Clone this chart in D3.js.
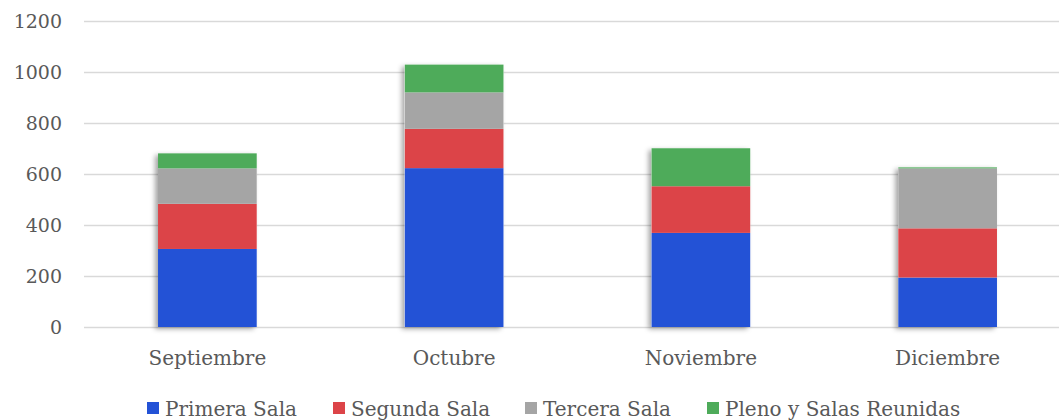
<!DOCTYPE html>
<html>
<head>
<meta charset="utf-8">
<script src="https://cdn.jsdelivr.net/npm/d3@7"></script>
<style>
  body { margin: 0; background: #fff; }
  text { font-family: "DejaVu Serif", serif; fill: #595959; }
</style>
</head>
<body>
<svg width="1059" height="420"></svg>
<script>
var months = ["Septiembre", "Octubre", "Noviembre", "Diciembre"];
var series = ["Primera Sala", "Segunda Sala", "Tercera Sala", "Pleno y Salas Reunidas"];
var primera = [306, 623, 369, 194];
var segunda = [177, 154, 183, 193];
var tercera = [139, 143, 0, 235];
var pleno   = [59, 109, 149, 4];
var yTicks = [0, 200, 400, 600, 800, 1000, 1200];
var colors = ["#2352d6", "#dc4448", "#a5a5a5", "#4eab5a"];

var rows = months.map(function(m, i) {
  return {month: m, "Primera Sala": primera[i], "Segunda Sala": segunda[i],
          "Tercera Sala": tercera[i], "Pleno y Salas Reunidas": pleno[i]};
});

var svg = d3.select("svg");
var font = "DejaVu Serif, serif";

var x = d3.scaleBand().domain(months).range([84, 1071]).paddingInner(0.6).paddingOuter(0.3);
var y = d3.scaleLinear().domain([0, 1200]).range([327, 21]);

// shadow under the bars
var f = svg.append("defs").append("filter")
    .attr("id", "shadow")
    .attr("x", "-20%").attr("y", "-20%").attr("width", "140%").attr("height", "140%");
f.append("feDropShadow")
    .attr("dx", -3).attr("dy", 2)
    .attr("stdDeviation", 2.5)
    .attr("flood-color", "#000")
    .attr("flood-opacity", 0.35);

// gridlines + y labels
var yAxis = svg.append("g")
    .call(d3.axisLeft(y).tickValues(yTicks).tickFormat(d3.format("d")).tickSize(0).tickPadding(0));
yAxis.select(".domain").remove();
yAxis.selectAll(".tick line")
    .attr("x1", 84).attr("x2", 1059)
    .attr("stroke", "#d9d9d9").attr("stroke-width", 1.3);
yAxis.selectAll(".tick text")
    .attr("x", 62)
    .attr("dy", "0.36em")
    .style("font-size", "19px")
    .style("font-family", font)
    .attr("fill", "#595959");

var stacked = d3.stack().keys(series)(rows);

var bars = svg.append("g");
months.forEach(function(m, i) {
  var total = primera[i] + segunda[i] + tercera[i] + pleno[i];
  bars.append("rect")
      .attr("x", x(m)).attr("width", x.bandwidth())
      .attr("y", y(total)).attr("height", y(0) - y(total))
      .attr("fill", "#fff")
      .attr("filter", "url(#shadow)");
});

bars.selectAll("g.layer")
  .data(stacked)
  .enter().append("g")
    .attr("class", "layer")
    .attr("fill", function(d, i) { return colors[i]; })
  .selectAll("rect")
  .data(function(d) { return d; })
  .enter().append("rect")
    .attr("x", function(d) { return x(d.data.month); })
    .attr("width", x.bandwidth())
    .attr("y", function(d) { return y(d[1]); })
    .attr("height", function(d) { return y(d[0]) - y(d[1]); });

// x labels
var xAxis = svg.append("g")
    .attr("transform", "translate(0,327)")
    .call(d3.axisBottom(x).tickSize(0).tickPadding(0));
xAxis.select(".domain").remove();
xAxis.selectAll(".tick text")
    .attr("y", 38)
    .attr("dy", 0)
    .style("font-size", "20px")
    .style("font-family", font)
    .attr("fill", "#595959");

// legend
var legendX = [147, 333, 525, 707];
var legend = svg.append("g").selectAll("g")
    .data(series)
    .enter().append("g")
    .attr("transform", function(d, i) { return "translate(" + legendX[i] + ",402)"; });
legend.append("rect")
    .attr("width", 12).attr("height", 12)
    .attr("fill", function(d, i) { return colors[i]; });
legend.append("text")
    .attr("x", 18).attr("y", 14)
    .style("font-size", "20px")
    .text(function(d) { return d; });
</script>
</body>
</html>
